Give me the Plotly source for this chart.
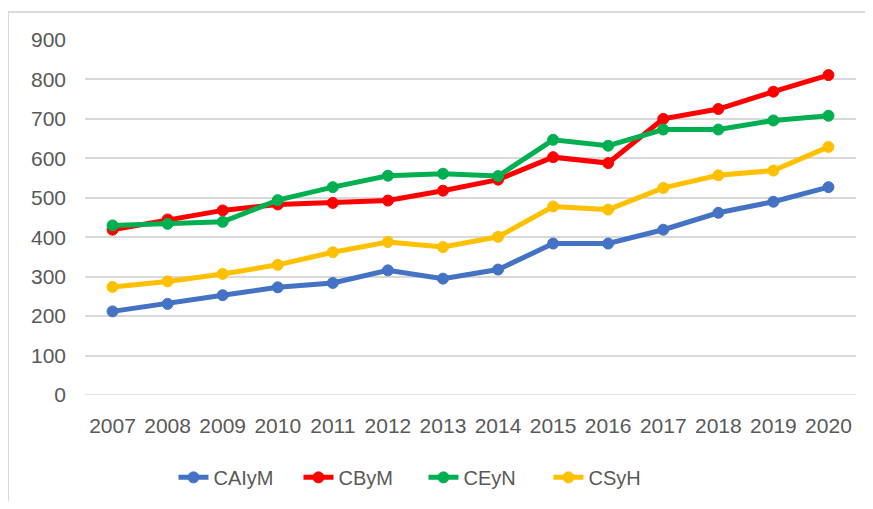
import plotly.graph_objects as go

years = ["2007", "2008", "2009", "2010", "2011", "2012", "2013",
         "2014", "2015", "2016", "2017", "2018", "2019", "2020"]
caiym = [212, 231, 253, 273, 284, 316, 295, 318, 384, 384, 419, 462, 490, 527]
cbym = [419, 445, 468, 483, 487, 493, 518, 546, 603, 588, 700, 725, 769, 811]
ceyn = [430, 434, 439, 494, 527, 556, 561, 555, 647, 632, 673, 673, 696, 708]
csyh = [274, 288, 307, 330, 362, 388, 375, 401, 478, 470, 525, 557, 569, 629]
y_ticks = [0, 100, 200, 300, 400, 500, 600, 700, 800, 900]

series = [
    ("CAIyM", caiym, "#4472C4"),
    ("CByM", cbym, "#FF0000"),
    ("CEyN", ceyn, "#00B050"),
    ("CSyH", csyh, "#FFC000"),
]

fig = go.Figure()
for name, vals, color in series:
    fig.add_trace(go.Scatter(
        x=years, y=vals, name=name, mode="lines+markers",
        line=dict(color=color, width=5),
        marker=dict(color=color, size=11, line=dict(color=color, width=1)),
    ))

font_family = "Liberation Sans"
fig.update_layout(
    width=857, height=493,
    margin=dict(l=77, r=9, t=32, b=105.5, autoexpand=False),
    paper_bgcolor="white", plot_bgcolor="white",
    font=dict(family=font_family, color="#595959", size=22),
    showlegend=True,
    legend=dict(orientation="h", x=0.439, xanchor="center", y=-0.232, yanchor="middle",
                font=dict(size=20, color="#595959"), itemwidth=30,
                entrywidth=80, entrywidthmode="pixels",
                traceorder="normal"),
    xaxis=dict(type="category", range=[-0.5, 13.5], showgrid=False, showline=False,
               ticks="", tickfont=dict(size=21), ticklabelstandoff=16,
               fixedrange=True),
    yaxis=dict(range=[0, 900], tickvals=y_ticks, showgrid=True, gridcolor="#d9d9d9",
               gridwidth=1.5, zeroline=False, showline=False, ticks="",
               tickfont=dict(size=21), ticklabelstandoff=18),
    shapes=[
        dict(type="rect", xref="paper", yref="paper", x0=-0.0999, x1=1.3,
             y0=-0.6, y1=1.0788, line=dict(color="#d9d9d9", width=2),
             fillcolor="rgba(0,0,0,0)", layer="below"),
        dict(type="line", xref="paper", yref="y", x0=0, x1=1, y0=0, y1=0,
             line=dict(color="#d9d9d9", width=1.5), layer="below"),
    ],
)

fig.write_html("out.html")
